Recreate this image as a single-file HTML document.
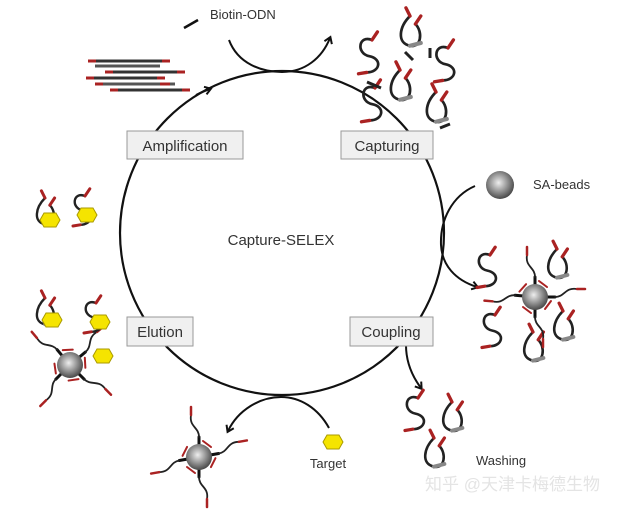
<!DOCTYPE html>
<html><head><meta charset="utf-8"><style>
html,body{margin:0;padding:0;background:#fff;}
svg{display:block;}
text{font-family:"Liberation Sans","Noto Sans CJK SC",sans-serif;fill:#333;}
</style></head><body>
<svg width="627" height="509" viewBox="0 0 627 509" xmlns="http://www.w3.org/2000/svg">
<defs>
<radialGradient id="bd" cx="0.45" cy="0.42" r="0.6">
<stop offset="0" stop-color="#eee"/><stop offset="0.6" stop-color="#888"/><stop offset="1" stop-color="#444"/>
</radialGradient>
<marker id="ar" markerWidth="10" markerHeight="10" refX="6" refY="5" orient="auto" markerUnits="userSpaceOnUse">
<path d="M1,1 L7,5 L1,9" fill="none" stroke="#111" stroke-width="2"/>
</marker>
<g id="apt" fill="none" stroke-linecap="round">
<path d="M0,0 C-10,-4 -12,10 -2,12 C8,14 6,24 -4,24" stroke="#222" stroke-width="2"/>
<path d="M0,0 l4,-6" stroke="#a22" stroke-width="2.5"/>
<path d="M-4,24 l-6,1" stroke="#a22" stroke-width="2.5"/>
</g>
<g id="apt2" fill="none" stroke-linecap="round">
<path d="M0,0 C-8,8 -10,20 0,22 C8,24 10,12 4,6" stroke="#222" stroke-width="2"/>
<path d="M0,0 l-3,-6" stroke="#a22" stroke-width="2.5"/>
<path d="M4,6 l4,-6" stroke="#a22" stroke-width="2.5"/>
<path d="M0,22 l8,-2" stroke="#888" stroke-width="3"/>
</g>
<polygon id="hex" points="-6,-7 6,-7 10,0 6,7 -6,7 -10,0" fill="#f5e400" stroke="#aa9a00" stroke-width="1"/>
<g id="arm" fill="none" stroke-linecap="round">
<path d="M0,0 L20,0" stroke="#111" stroke-width="3"/>
<path d="M20,0 C30,0 30,-10 42,-8" stroke="#222" stroke-width="1.8"/>
<path d="M42,-8 l8,0" stroke="#a22" stroke-width="2.5"/>
<path d="M16,4 l-6,8" stroke="#a22" stroke-width="2"/>
</g>
</defs>

<!-- main cycle -->
<circle cx="282" cy="233" r="162" fill="none" stroke="#111" stroke-width="2.2"/>
<!-- top crossing arc -->
<path d="M229,40 C238,64 262,72 282,72 C305,72 322,58 330,38" fill="none" stroke="#111" stroke-width="2" marker-end="url(#ar)"/>
<path d="M196,95 C200,93 204,91 210,89" fill="none" stroke="#111" stroke-width="2" marker-end="url(#ar)"/>
<!-- right arc -->
<path d="M475,186 C452,196 440,220 441,245 C442,265 455,280 477,287" fill="none" stroke="#111" stroke-width="2" marker-end="url(#ar)"/>
<!-- coupling arrow -->
<path d="M406,345 C406,362 412,376 421,388" fill="none" stroke="#111" stroke-width="2" marker-end="url(#ar)"/>
<!-- bottom arc -->
<path d="M329,428 C318,408 300,397 281,397 C260,397 238,410 228,431" fill="none" stroke="#111" stroke-width="2" marker-end="url(#ar)"/>

<!-- labels -->
<rect x="127" y="131" width="116" height="28" fill="#f0f0f0" stroke="#999"/>
<text x="185" y="151" font-size="15" text-anchor="middle">Amplification</text>
<rect x="341" y="131" width="92" height="28" fill="#f0f0f0" stroke="#999"/>
<text x="387" y="151" font-size="15" text-anchor="middle">Capturing</text>
<rect x="127" y="317" width="66" height="29" fill="#f0f0f0" stroke="#999"/>
<text x="160" y="337" font-size="15" text-anchor="middle">Elution</text>
<rect x="350" y="317" width="83" height="29" fill="#f0f0f0" stroke="#999"/>
<text x="391" y="337" font-size="15" text-anchor="middle">Coupling</text>
<text x="281" y="245" font-size="15" text-anchor="middle">Capture-SELEX</text>
<text x="210" y="19" font-size="13">Biotin-ODN</text>
<text x="533" y="189" font-size="13">SA-beads</text>
<text x="328" y="468" font-size="13" text-anchor="middle">Target</text>
<text x="476" y="465" font-size="13">Washing</text>
<text x="425" y="490" font-size="17" style="fill:#e4e4e4">知乎 @天津卡梅德生物</text>

<!-- biotin ODN -->
<path d="M184,28 L198,20" stroke="#111" stroke-width="2.5"/>

<!-- duplex stacks -->
<g stroke-width="3">
<path d="M88,61 H170" stroke="#333"/><path d="M88,61 h8M162,61 h8" stroke="#a22"/>
<path d="M95,66 H160" stroke="#555"/>
<path d="M105,72 H185" stroke="#333"/><path d="M105,72 h8M177,72 h8" stroke="#a22"/>
<path d="M86,78 H165" stroke="#333"/><path d="M86,78 h8M157,78 h8" stroke="#a22"/>
<path d="M95,84 H175" stroke="#555"/><path d="M95,84 h8M160,84 h10" stroke="#a22"/>
<path d="M110,90 H190" stroke="#333"/><path d="M110,90 h8M182,90 h8" stroke="#a22"/>
</g>

<!-- capturing aptamers top right -->
<g transform="translate(372,40) scale(1.35)"><use href="#apt"/></g>
<g transform="translate(410,16) scale(1.35)"><use href="#apt2"/></g>
<g transform="translate(448,48) scale(1.35)"><use href="#apt"/></g>
<g transform="translate(400,70) scale(1.35)"><use href="#apt2"/></g>
<g transform="translate(375,88) scale(1.35)"><use href="#apt"/></g>
<g transform="translate(436,92) scale(1.35)"><use href="#apt2"/></g>
<path d="M367,82 l14,6 M405,52 l8,8 M430,48 l0,10 M440,128 l10,-4" stroke="#222" stroke-width="3"/>

<!-- SA bead -->
<circle cx="500" cy="185" r="14" fill="url(#bd)"/>

<!-- coupled bead right -->
<g transform="translate(535,297)">
<g transform="translate(-45,-42) scale(1.3)"><use href="#apt"/></g>
<g transform="translate(22,-48) scale(1.3)"><use href="#apt2"/></g>
<g transform="translate(-40,18) scale(1.3)"><use href="#apt"/></g>
<g transform="translate(28,14) scale(1.3)"><use href="#apt2"/></g>
<g transform="translate(-2,35) scale(1.3)"><use href="#apt2"/></g>
<use href="#arm" transform="rotate(-90)"/><use href="#arm" transform="rotate(0)"/>
<use href="#arm" transform="rotate(90)"/><use href="#arm" transform="rotate(185)"/>
<circle r="13" fill="url(#bd)"/>
</g>

<!-- washing aptamers -->
<g transform="translate(418,398) scale(1.3)"><use href="#apt"/></g>
<g transform="translate(452,402) scale(1.3)"><use href="#apt2"/></g>
<g transform="translate(434,438) scale(1.3)"><use href="#apt2"/></g>

<!-- bottom bead -->
<g transform="translate(199,457)">
<use href="#arm" transform="rotate(-90)"/><use href="#arm" transform="rotate(-10)"/>
<use href="#arm" transform="rotate(90)"/><use href="#arm" transform="rotate(170)"/>
<circle r="13" fill="url(#bd)"/>
</g>
<use href="#hex" x="333" y="442"/>

<!-- elution bead -->
<g transform="translate(70,365)">
<use href="#arm" transform="rotate(-130)"/><use href="#arm" transform="rotate(-40)"/>
<use href="#arm" transform="rotate(45)"/><use href="#arm" transform="rotate(135)"/>
<circle r="13" fill="url(#bd)"/>
</g>
<use href="#hex" x="103" y="356"/>

<!-- aptamers with targets -->
<g transform="translate(45,198) scale(1.2)"><use href="#apt2"/></g><use href="#hex" x="50" y="220"/>
<g transform="translate(85,196) scale(1.2)"><use href="#apt"/></g><use href="#hex" x="87" y="215"/>
<g transform="translate(45,298) scale(1.2)"><use href="#apt2"/></g><use href="#hex" x="52" y="320"/>
<g transform="translate(96,303) scale(1.2)"><use href="#apt"/></g><use href="#hex" x="100" y="322"/>
</svg>
</body></html>
